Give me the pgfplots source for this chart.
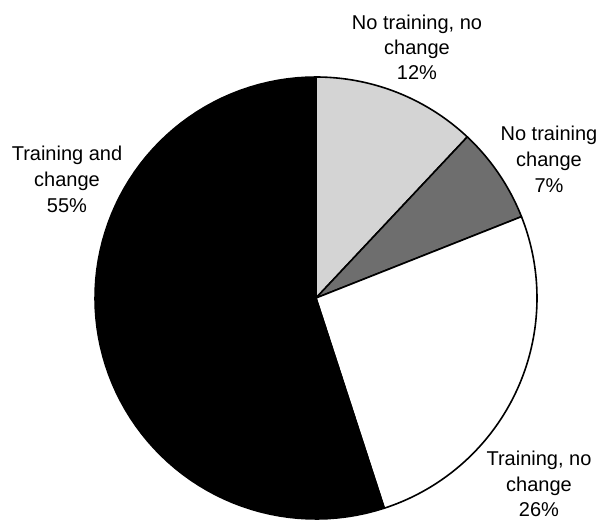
\documentclass[border=0pt]{standalone}
\usepackage{pgfplots}
\pgfplotsset{compat=1.18}
\usepackage{fontspec}
\setmainfont{Liberation Sans}
\definecolor{lightstip}{HTML}{D4D4D4}
\definecolor{darkstip}{HTML}{6E6E6E}
% slice shares (percent), clockwise from 12 o'clock
\def\pA{12} % No training, no change
\def\pB{7}  % No training change
\def\pC{26} % Training, no change
\def\pD{55} % Training and change
\begin{document}
\begin{tikzpicture}
\useasboundingbox (0,0) rectangle (599bp,521bp);
\pgfmathsetmacro\aA{90}
\pgfmathsetmacro\aB{\aA-3.6*\pA}
\pgfmathsetmacro\aC{\aB-3.6*\pB}
\pgfmathsetmacro\aD{\aC-3.6*\pC}
\pgfmathsetmacro\aE{\aD-3.6*\pD}
\begin{axis}[at={(0,0)},anchor=south west,
  hide axis, scale only axis, width=599bp, height=521bp,
  xmin=0, xmax=599, ymin=0, ymax=521, y dir=reverse, clip=false,
  every axis plot/.append style={draw=black, line width=1.6bp, line join=round, samples=80, variable=\t}]
\addplot[fill=lightstip, domain=\aB:\aA] ({316+221*cos(\t)},{298-221*sin(\t)}) -- (axis cs:316,298) -- cycle;
\addplot[fill=darkstip, domain=\aC:\aB] ({316+221*cos(\t)},{298-221*sin(\t)}) -- (axis cs:316,298) -- cycle;
\addplot[fill=white, domain=\aD:\aC] ({316+221*cos(\t)},{298-221*sin(\t)}) -- (axis cs:316,298) -- cycle;
\addplot[fill=black, domain=\aE:\aD] ({316+221*cos(\t)},{298-221*sin(\t)}) -- (axis cs:316,298) -- cycle;
\begin{scope}[every node/.style={anchor=base, inner sep=0pt, font=\fontsize{20bp}{25bp}\selectfont}]
\node at (axis cs:417,30) {No training, no};
\node at (axis cs:417,55) {change};
\node at (axis cs:417,80) {12\%};
\node at (axis cs:549,140) {No training};
\node at (axis cs:549,166) {change};
\node at (axis cs:549,192) {7\%};
\node at (axis cs:67,160) {Training and};
\node at (axis cs:67,186) {change};
\node at (axis cs:67,212) {55\%};
\node at (axis cs:539,465) {Training, no};
\node at (axis cs:539,491) {change};
\node at (axis cs:539,516) {26\%};
\end{scope}
\end{axis}
\end{tikzpicture}
\end{document}
